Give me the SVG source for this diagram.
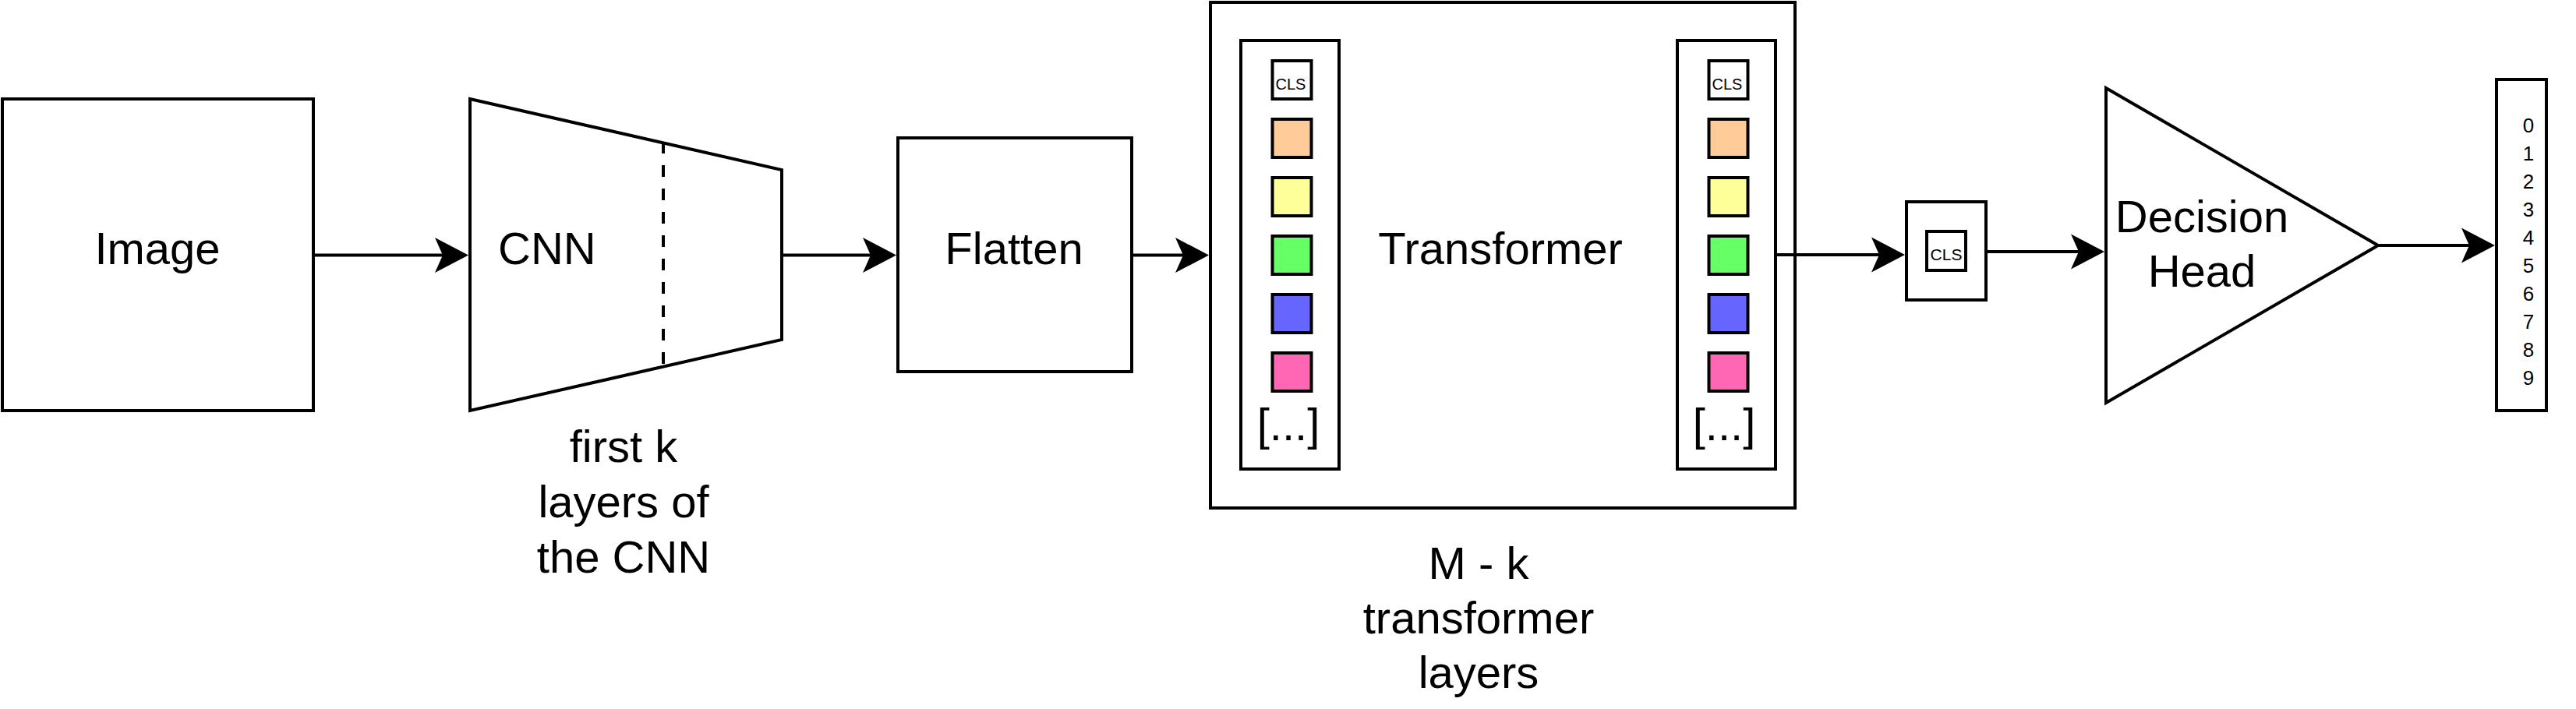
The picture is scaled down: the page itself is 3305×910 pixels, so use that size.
<svg xmlns="http://www.w3.org/2000/svg" width="3305" height="910" viewBox="0 0 3305 910">
<style>
.box{fill:#ffffff;stroke:#000000;stroke-width:4}
.tok{stroke:#000000;stroke-width:4}
.edge{fill:none;stroke:#000000;stroke-width:4}
.t{font-family:"Liberation Sans",Arial,Helvetica,sans-serif;fill:#000000}
.big{font-size:58px}
.mid{font-size:58px;text-anchor:middle}
.cls{font-size:20px;text-anchor:middle}
.dig{font-size:26px;text-anchor:middle}
</style>
<defs>
<marker id="arr" markerUnits="userSpaceOnUse" markerWidth="60" markerHeight="60" refX="0" refY="0" orient="auto" overflow="visible">
<path d="M33,0 L-10,-22.5 L0,0 L-10,22.5 Z" fill="#000000"/>
</marker>
</defs>
<rect width="3305" height="910" fill="#ffffff"/>

<g id="image">
<rect class="box" x="3" y="127" width="399" height="400"/>
<text class="t mid" x="202" y="339">Image</text>
</g>

<g id="cnn">
<polygon class="box" points="603,127 1003,218 1003,436 603,527"/>
<line x1="851" y1="182" x2="851" y2="468" stroke="#000" stroke-width="4" stroke-dasharray="15 15"/>
<text class="t big" x="639" y="339">CNN</text>
</g>

<g id="cnn-label">
<text class="t mid" x="800" y="593">first k</text>
<text class="t mid" x="800" y="664">layers of</text>
<text class="t mid" x="800" y="735">the CNN</text>
</g>

<g id="flatten">
<rect class="box" x="1152" y="177" width="300" height="300"/>
<text class="t mid" x="1301" y="339">Flatten</text>
</g>

<g id="transformer">
<rect class="box" x="1553" y="3" width="750" height="649"/>
<text class="t mid" x="1925" y="339">Transformer</text>
</g>

<g id="tokens-in">
<rect class="box" x="1592" y="52" width="126" height="550"/>
<rect class="tok" x="1632.5" y="78" width="50" height="49" fill="#ffffff"/>
<text class="t cls" x="1656" y="115">CLS</text>
<rect class="tok" x="1632.5" y="153" width="50" height="49" fill="#FFCC99"/>
<rect class="tok" x="1632.5" y="228" width="50" height="49" fill="#FFFF99"/>
<rect class="tok" x="1632.5" y="303" width="50" height="49" fill="#66FF66"/>
<rect class="tok" x="1632.5" y="378" width="50" height="49" fill="#6666FF"/>
<rect class="tok" x="1632.5" y="453" width="50" height="49" fill="#FF66B3"/>
<text class="t mid" x="1653" y="565">[...]</text>
</g>

<g id="tokens-out">
<rect class="box" x="2152" y="52" width="126" height="550"/>
<rect class="tok" x="2192.5" y="78" width="50" height="49" fill="#ffffff"/>
<text class="t cls" x="2216" y="115">CLS</text>
<rect class="tok" x="2192.5" y="153" width="50" height="49" fill="#FFCC99"/>
<rect class="tok" x="2192.5" y="228" width="50" height="49" fill="#FFFF99"/>
<rect class="tok" x="2192.5" y="303" width="50" height="49" fill="#66FF66"/>
<rect class="tok" x="2192.5" y="378" width="50" height="49" fill="#6666FF"/>
<rect class="tok" x="2192.5" y="453" width="50" height="49" fill="#FF66B3"/>
<text class="t mid" x="2212" y="565">[...]</text>
</g>

<g id="transformer-label">
<text class="t mid" x="1897" y="743">M - k</text>
<text class="t mid" x="1897" y="813">transformer</text>
<text class="t mid" x="1897" y="883">layers</text>
</g>

<g id="cls-token">
<rect class="box" x="2446" y="259" width="102" height="126"/>
<rect class="tok" x="2472" y="297" width="50" height="50" fill="#ffffff"/>
<text class="t" x="2497" y="334" font-size="21" text-anchor="middle">CLS</text>
</g>

<g id="decision-head">
<polygon class="box" points="2702,113 3051,315 2702,517"/>
<text class="t mid" x="2825" y="298">Decision</text>
<text class="t mid" x="2825" y="368">Head</text>
</g>

<g id="output">
<rect class="box" x="3203" y="102" width="64" height="425"/>
<text class="t dig" x="3244" y="170">0</text>
<text class="t dig" x="3244" y="206">1</text>
<text class="t dig" x="3244" y="242">2</text>
<text class="t dig" x="3244" y="278">3</text>
<text class="t dig" x="3244" y="314">4</text>
<text class="t dig" x="3244" y="350">5</text>
<text class="t dig" x="3244" y="386">6</text>
<text class="t dig" x="3244" y="422">7</text>
<text class="t dig" x="3244" y="458">8</text>
<text class="t dig" x="3244" y="494">9</text>
</g>

<g id="connectors">
<line class="edge" x1="402" y1="327.5" x2="568" y2="327.5" marker-end="url(#arr)"/>
<line class="edge" x1="1003" y1="327.5" x2="1117" y2="327.5" marker-end="url(#arr)"/>
<line class="edge" x1="1452" y1="327.5" x2="1518" y2="327.5" marker-end="url(#arr)"/>
<line class="edge" x1="2278" y1="327" x2="2411" y2="327" marker-end="url(#arr)"/>
<line class="edge" x1="2548" y1="323" x2="2667" y2="323" marker-end="url(#arr)"/>
<line class="edge" x1="3051" y1="315" x2="3168" y2="315" marker-end="url(#arr)"/>
</g>
</svg>
